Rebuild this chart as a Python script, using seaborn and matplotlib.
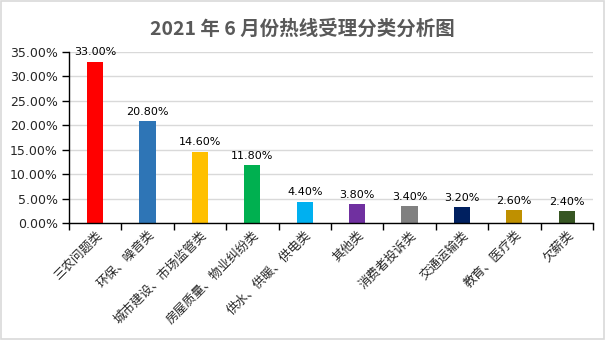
import matplotlib
matplotlib.use("Agg")
import matplotlib.pyplot as plt
import seaborn as sns
import pandas as pd
from matplotlib.ticker import PercentFormatter, FixedLocator

categories = ["三农问题类", "环保、噪音类", "城市建设、市场监管类", "房屋质量、物业纠纷类",
              "供水、供暖、供电类", "其他类", "消费者投诉类", "交通运输类", "教育、医疗类", "欠薪类"]
values = [33.0, 20.8, 14.6, 11.8, 4.4, 3.8, 3.4, 3.2, 2.6, 2.4]
colors = ["#FF0000", "#2E75B6", "#FFC000", "#00B050", "#00B0F0",
          "#7030A0", "#808080", "#002060", "#BF9000", "#375623"]
title = "2021 年 6 月份热线受理分类分析图"

sns.set_theme(style="white")
plt.rcParams['font.family'] = ['DejaVu Sans', 'Noto Sans CJK SC']

df = pd.DataFrame({"cat": categories, "val": values})

fig = plt.figure(figsize=(6.05, 3.4), dpi=100)
fig.patch.set_facecolor("white")
ax = fig.add_axes([0.114, 0.344, 0.866, 0.503])
sns.barplot(data=df, x="cat", y="val", hue="cat", palette=colors, legend=False,
            width=0.31, ax=ax, saturation=1, linewidth=0)

ax.set_ylim(0, 35)
ax.set_yticks([0, 5, 10, 15, 20, 25, 30, 35])
ax.yaxis.set_major_formatter(PercentFormatter(decimals=2))
ax.set_xlim(-0.5, len(categories) - 0.5)
ax.grid(axis="y", color="#D9D9D9", linewidth=1)
ax.set_axisbelow(True)
for s in ["top", "right"]:
    ax.spines[s].set_visible(False)
for s in ["left", "bottom"]:
    ax.spines[s].set_color("black")
    ax.spines[s].set_linewidth(1)

ax.set_xlabel("")
ax.set_ylabel("")
ax.set_xticks(range(len(categories)))
ax.set_xticklabels(categories, rotation=45, ha="right", rotation_mode="anchor",
                   fontsize=9, family=['Noto Sans CJK SC', 'DejaVu Sans'])
ax.tick_params(axis="x", length=0, pad=4)
ax.xaxis.set_minor_locator(FixedLocator([i - 0.5 for i in range(len(categories) + 1)]))
ax.tick_params(axis="x", which="minor", bottom=True, length=5, width=1, color="black", direction="out")
ax.tick_params(axis="y", left=True, length=5, width=1, color="black", direction="out", labelsize=9, pad=3)

for i, v in enumerate(values):
    ax.text(i, v + 0.9, f"{v:.2f}%", ha="center", va="bottom", fontsize=8, color="black")

fig.text(0.5, 0.915, title, ha="center", va="center", fontsize=14, fontweight="bold",
         color="#595959", family=['Noto Sans CJK SC', 'DejaVu Sans'])

border = plt.Rectangle((0.002, 0.003), 0.996, 0.994, transform=fig.transFigure,
                       fill=False, edgecolor="#D9D9D9", linewidth=1.2)
fig.patches.append(border)

fig.savefig("out.png", dpi=100)
